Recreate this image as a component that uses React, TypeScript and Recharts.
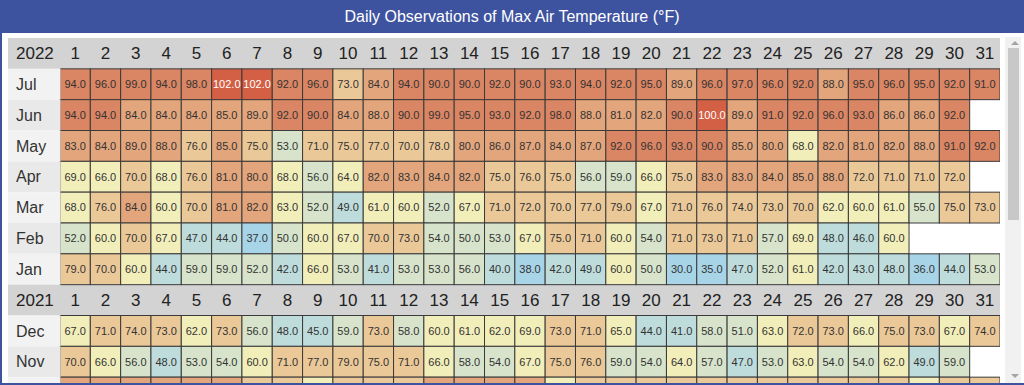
import { ScatterChart, Scatter, XAxis, YAxis } from 'recharts';

// rows of the table, top to bottom (header rows carry the year)
const rowLabels = ['2022', 'Jul', 'Jun', 'May', 'Apr', 'Mar', 'Feb', 'Jan', '2021', 'Dec', 'Nov', 'Oct'];
const headerRows = ['2022', '2021'];
const days = [1, 2, 3, 4, 5, 6, 7, 8, 9, 10, 11, 12, 13, 14, 15, 16, 17, 18, 19, 20, 21, 22, 23, 24, 25, 26, 27, 28, 29, 30, 31];

const jul2022 = [94, 96, 99, 94, 98, 102, 102, 92, 96, 73, 84, 94, 90, 90, 92, 90, 93, 94, 92, 95, 89, 96, 97, 96, 92, 88, 95, 96, 95, 92, 91];
const jun2022 = [94, 94, 84, 84, 84, 85, 89, 92, 90, 84, 88, 90, 99, 95, 93, 92, 98, 88, 81, 82, 90, 100, 89, 91, 92, 96, 93, 86, 86, 92];
const may2022 = [83, 84, 89, 88, 76, 85, 75, 53, 71, 75, 77, 70, 78, 80, 86, 87, 84, 87, 92, 96, 93, 90, 85, 80, 68, 82, 81, 82, 88, 91, 92];
const apr2022 = [69, 66, 70, 68, 76, 81, 80, 68, 56, 64, 82, 83, 84, 82, 75, 76, 75, 56, 59, 66, 75, 83, 83, 84, 85, 88, 72, 71, 71, 72];
const mar2022 = [68, 76, 84, 60, 70, 81, 82, 63, 52, 49, 61, 60, 52, 67, 71, 72, 70, 77, 79, 67, 71, 76, 74, 73, 70, 62, 60, 61, 55, 75, 73];
const feb2022 = [52, 60, 70, 67, 47, 44, 37, 50, 60, 67, 70, 73, 54, 50, 53, 67, 75, 71, 60, 54, 71, 73, 71, 57, 69, 48, 46, 60];
const jan2022 = [79, 70, 60, 44, 59, 59, 52, 42, 66, 53, 41, 53, 53, 56, 40, 38, 42, 49, 60, 50, 30, 35, 47, 52, 61, 42, 43, 48, 36, 44, 53];
const dec2021 = [67, 71, 74, 73, 62, 73, 56, 48, 45, 59, 73, 58, 60, 61, 62, 69, 73, 71, 65, 44, 41, 58, 51, 63, 72, 73, 66, 75, 73, 67, 74];
const nov2021 = [70, 66, 56, 48, 53, 54, 60, 71, 77, 79, 75, 71, 66, 58, 54, 67, 75, 76, 59, 54, 64, 57, 47, 53, 63, 54, 54, 62, 49, 59];
// only the top edge of October shows, values estimated from colour
const oct2021 = [82, 84, 85, 83, 81, 80, 78, 76, 68, 74, 75, 77, 82, 84, 83, 85, 66, 72, 74, 75, 73, 71, 74, 76, 72, 70, 73, 75, 69, 72, 74];

const monthValues: Record<string, number[]> = {
  Jul: jul2022, Jun: jun2022, May: may2022, Apr: apr2022, Mar: mar2022, Feb: feb2022, Jan: jan2022,
  Dec: dec2021, Nov: nov2021, Oct: oct2021,
};
// rows scrolled below the fold: cell colours peek in, their numbers do not
const hiddenTextRows = ['Oct'];

const BLUE = '#3e53a0';
const HEADER_GREY = '#d3d3d3';
const CHART_W = 992;
const CHART_H = 370;
const LABEL_W = 52;
const CELL_W = (CHART_W - LABEL_W) / days.length;
const CELL_H = CHART_H / rowLabels.length;

const valueCells = rowLabels.flatMap((label, r) =>
  (monthValues[label] || []).map((v, i) => ({ x: days[i], y: r + 0.5, v, showText: !hiddenTextRows.includes(label) }))
);
const headerCells = rowLabels.flatMap((label, r) =>
  headerRows.includes(label) ? days.map(d => ({ x: d, y: r + 0.5, d })) : []
);

function tempColor(v: number) {
  if (v >= 100) return '#d35f45';
  if (v >= 90) return '#da8563';
  if (v >= 80) return '#e3a57c';
  if (v >= 70) return '#ebc898';
  if (v >= 60) return '#f2eeba';
  if (v >= 50) return '#d7e4cb';
  if (v >= 40) return '#bedcdb';
  return '#a8d4e8';
}

function ValueCell(props: any) {
  const { cx, cy, payload } = props;
  return (
    <g>
      <rect x={cx - CELL_W / 2} y={cy - CELL_H / 2} width={CELL_W} height={CELL_H}
        fill={tempColor(payload.v)} stroke="#3a3a3a" strokeWidth={1} />
      {payload.showText && (
        <text x={cx} y={cy} dy="0.35em" textAnchor="middle" fontSize={11}
          fill={payload.v >= 100 ? '#fff' : '#333'}>{payload.v.toFixed(1)}</text>
      )}
    </g>
  );
}

function HeaderCell(props: any) {
  const { cx, cy, payload } = props;
  return (
    <g>
      <rect x={cx - CELL_W / 2 - 0.5} y={cy - CELL_H / 2} width={CELL_W + 1} height={CELL_H} fill={HEADER_GREY} />
      <text x={cx} y={cy} dy="0.35em" textAnchor="middle" fontSize={17} fill="#222">{payload.d}</text>
    </g>
  );
}

function RowTick(props: any) {
  const { y, payload } = props;
  const idx = Math.round(payload.value - 0.5);
  const label = rowLabels[idx];
  const isHeader = headerRows.includes(label);
  const fill = isHeader ? HEADER_GREY : idx % 2 ? '#f2f2f2' : '#e9e9e9';
  return (
    <g>
      <rect x={0} y={y - CELL_H / 2} width={LABEL_W + 0.5} height={CELL_H} fill={fill} />
      {!hiddenTextRows.includes(label) && (
        <text x={8} y={y} dy="0.35em" textAnchor="start" fontSize={isHeader ? 17 : 16}
          fill={isHeader ? '#222' : '#333'}>{label}</text>
      )}
    </g>
  );
}

export default function App() {
  const rowTicks = rowLabels.map((_, i) => i + 0.5);
  return (
    <div style={{ width: 1024, height: 385, position: 'relative', overflow: 'hidden', background: '#fff', fontFamily: 'Arial, "Liberation Sans", sans-serif' }}>
      <style>{'body{margin:0}'}</style>
      <div style={{ position: 'absolute', left: 0, top: 0, width: 1024, height: 33, background: BLUE, color: '#fff', fontSize: 16, lineHeight: '34px', textAlign: 'center' }}>
        Daily Observations of Max Air Temperature (°F)
      </div>
      <div style={{ position: 'absolute', left: 0, top: 33, width: 2, height: 352, background: BLUE }} />
      <div style={{ position: 'absolute', left: 0, top: 383, width: 1024, height: 2, background: BLUE }} />
      <div style={{ position: 'absolute', left: 8, top: 38, width: CHART_W, height: 345, overflow: 'hidden' }}>
        <ScatterChart width={CHART_W} height={CHART_H} margin={{ top: 0, right: 0, bottom: 0, left: 0 }}>
          <XAxis type="number" dataKey="x" domain={[0.5, 31.5]} hide />
          <YAxis type="number" dataKey="y" domain={[0, rowLabels.length]} reversed width={LABEL_W}
            ticks={rowTicks} interval={0} tick={<RowTick />} axisLine={false} tickLine={false} allowDataOverflow />
          <Scatter data={headerCells} shape={HeaderCell} isAnimationActive={false} />
          <Scatter data={valueCells} shape={ValueCell} isAnimationActive={false} />
        </ScatterChart>
      </div>
      {/* scrollbar */}
      <div style={{ position: 'absolute', left: 1005, top: 37, width: 16, height: 346, background: '#f1f1f1' }} />
      <div style={{ position: 'absolute', left: 1008, top: 48, width: 11, height: 172, background: '#c8c8c8' }} />
      <div style={{ position: 'absolute', left: 1011, top: 41, width: 0, height: 0, borderLeft: '4px solid transparent', borderRight: '4px solid transparent', borderBottom: '4px solid #a3a3a3' }} />
      <div style={{ position: 'absolute', left: 1011, top: 374, width: 0, height: 0, borderLeft: '4px solid transparent', borderRight: '4px solid transparent', borderTop: '4px solid #a3a3a3' }} />
    </div>
  );
}
